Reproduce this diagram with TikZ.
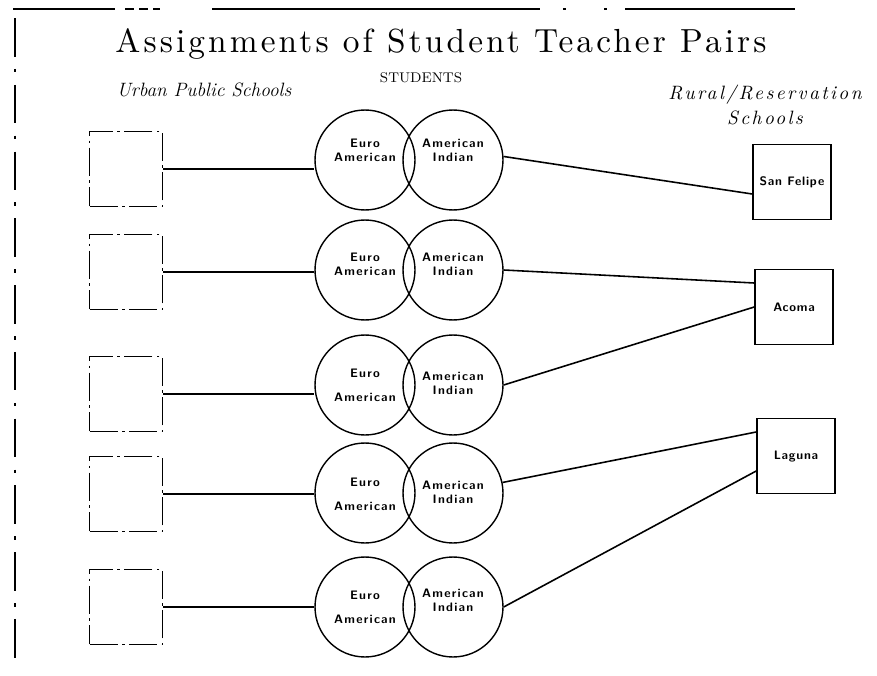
\documentclass[tikz,border=0pt]{standalone}
\usepackage{fontspec}
\newfontfamily\titlefont[LetterSpace=9.3]{lmroman10-regular.otf}
\newfontfamily\ruralfont[LetterSpace=12.5]{lmroman10-italic.otf}
\newfontfamily\pupilfont[LetterSpace=10]{lmsans10-bold.otf}
\newfontfamily\schoolfont[LetterSpace=6]{lmsans10-bold.otf}
\usetikzlibrary{calc}
\tikzset{
  urbanbox/.style={draw, line width=0.8pt, dash pattern=on 16pt off 2.5pt on 1.5pt off 2.5pt,
    minimum width=1.46cm, minimum height=1.5cm, inner sep=0pt},
  ruralbox/.style={draw, line width=0.9pt, minimum width=1.56cm, minimum height=1.5cm,
    inner sep=0pt, font=\schoolfont\fontsize{7}{8}\selectfont},
  pupil/.style={draw, circle, line width=0.8pt, minimum size=2cm, inner sep=0pt},
  pupiltext/.style={align=center, inner sep=0pt, font=\pupilfont\fontsize{7}{7.8}\selectfont},
  link/.style={line width=0.9pt}
}
\begin{document}
\begin{tikzpicture}[x=0.02cm,y=-0.02cm]
\useasboundingbox (0,0) rectangle (877,676);
% frame
\draw[line width=0.6pt] (13,9) -- (115,9);
\draw[line width=0.6pt, dash pattern=on 5pt off 3pt] (125,9) -- (160,9);
\draw[line width=1pt] (212,9) -- (540,9);
\draw[line width=0.8pt, dash pattern=on 1.5pt off 22pt] (563,9) -- (610,9);
\draw[line width=0.8pt] (625,9) -- (795,9);
\draw[line width=0.7pt, dash pattern=on 22pt off 7pt on 2pt off 7pt] (15,18) -- (15,668);
% titles
\node (title) at (441,44) {\titlefont\fontsize{19}{22}\selectfont Assignments of Student Teacher Pairs};
\node (students) at (421,78) {\fontsize{8}{9}\selectfont STUDENTS};
\node[font=\itshape\fontsize{11}{13}\selectfont] (urban) at (204,90) {Urban Public Schools};
\node[font=\ruralfont\fontsize{11}{14.7}\selectfont, align=center] (rural) at (765,105) {Rural/Reservation\\Schools};
% pairs
\foreach \i/\y/\yc/\gap/\dl/\dr in {1/169/160/0pt/-10/-10, 2/272/270/0pt/-6/-6,
    3/394/385/6pt/0/-2, 4/494/493/6pt/1/-1, 5/607/607/6pt/0/-7}{
  \node[urbanbox] (ub\i) at (126,\y) {};
  \node[pupil] (eu\i) at (365,\yc) {};
  \node[pupil] (ai\i) at (453,\yc) {};
  \node[pupiltext] (eut\i) at ($(eu\i)+(0,\dl)$) {Euro\\[\gap]American};
  \node[pupiltext] (ait\i) at ($(ai\i)+(0,\dr)$) {American\\Indian};
  \draw[link] (ub\i.east) -- (ub\i.east -| eu\i.west);
}
% schools
\node[ruralbox] (sf) at (792,182) {San Felipe};
\node[ruralbox] (ac) at (794,307) {Acoma};
\node[ruralbox] (la) at (796,456) {Laguna};
\draw[link] (ai1.4) -- ($(sf.west)+(0,12)$);
\draw[link] (ai2.east) -- ($(ac.west)+(0,-24)$);
\draw[link] (ai3.east) -- (ac.west);
\draw[link] (ai4.12) -- ($(la.west)+(0,-24)$);
\draw[link] (ai5.east) -- ($(la.west)+(0,15)$);
\end{tikzpicture}
\end{document}
